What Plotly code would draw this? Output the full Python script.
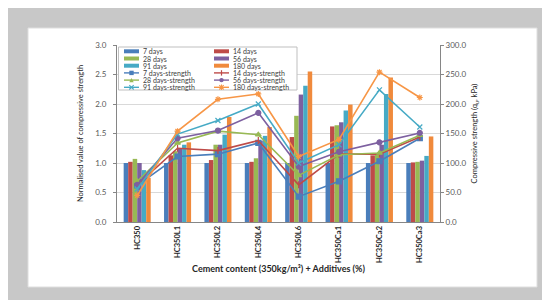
import plotly.graph_objects as go

categories = ["HC350", "HC350L1", "HC350L2", "HC350L4", "HC350L6", "HC350Ca1", "HC350Ca2", "HC350Ca3"]

# Normalised compressive strength (bars, left axis)
norm_7 = [1.00, 1.00, 1.00, 1.00, 1.00, 1.00, 1.00, 1.00]
norm_14 = [1.02, 1.13, 1.05, 1.02, 1.44, 1.62, 1.13, 1.01]
norm_28 = [1.07, 1.20, 1.31, 1.08, 1.80, 1.64, 1.17, 1.02]
norm_56 = [1.00, 1.25, 1.31, 1.38, 2.16, 1.69, 1.31, 1.04]
norm_91 = [0.88, 1.31, 1.48, 1.46, 2.31, 1.89, 2.17, 1.12]
norm_180 = [0.75, 1.35, 1.78, 1.61, 2.55, 1.99, 2.45, 1.45]

# Compressive strength qu in kPa (lines, right axis)
str_7 = [62, 111, 115, 134, 43, 69, 103, 142]
str_14 = [63, 125, 121, 138, 63, 115, 115, 144]
str_28 = [69, 134, 154, 148, 79, 114, 117, 147]
str_56 = [63, 142, 155, 185, 94, 119, 135, 151]
str_91 = [56, 149, 172, 200, 100, 131, 224, 161]
str_180 = [45, 154, 208, 217, 111, 140, 254, 211]

bar_names = ["7 days", "14 days", "28 days", "56 days", "91 days", "180 days"]
line_names = ["7 days-strength", "14 days-strength", "28 days-strength",
              "56 days-strength", "91 days-strength", "180 days-strength"]

bar_colors = ["#4A7EBB", "#BE4B48", "#98B954", "#7D60A0", "#46AAC5", "#F08A3C"]
line_colors = ["#4A7EBB", "#BE4B48", "#98B954", "#7D60A0", "#46AAC5", "#F79646"]
line_symbols = ["square", "line-ns-open", "triangle-up", "circle", "x-thin-open", "asterisk-open"]

bars = [norm_7, norm_14, norm_28, norm_56, norm_91, norm_180]
lines = [str_7, str_14, str_28, str_56, str_91, str_180]

FONT = "Lato, 'Noto Sans', sans-serif"
W, H = 550, 300
ML, MR, MT, MB = 109, 118, 37, 86
PW, PH = W - ML - MR, H - MT - MB


def X(px):
    return (px - ML) / PW


def Y(py):
    return (MT + PH - py) / PH


fig = go.Figure()
for name, vals, col in zip(bar_names, bars, bar_colors):
    fig.add_trace(go.Bar(x=categories, y=vals, name=name, marker_color=col,
                         marker_line_width=0, showlegend=False, yaxis="y"))
for name, vals, col, sym in zip(line_names, lines, line_colors, line_symbols):
    fig.add_trace(go.Scatter(x=categories, y=vals, name=name, mode="lines+markers",
                             line=dict(color=col, width=1.6),
                             marker=dict(symbol=sym, size=5, color=col,
                                         line=dict(color=col, width=1.2)),
                             showlegend=False, yaxis="y2"))

shapes = []
# white chart frame on gray page
shapes.append(dict(type="rect", xref="paper", yref="paper", layer="below",
                   x0=X(20), x1=X(529), y0=Y(279), y1=Y(20),
                   fillcolor="white", line=dict(color="#dedede", width=1)))
# legend box
shapes.append(dict(type="rect", xref="paper", yref="paper",
                   x0=X(110.5), x1=X(289), y0=Y(82), y1=Y(39),
                   fillcolor="white", line=dict(color="#bfbfbf", width=1)))

annotations = []
rows = [43.3, 50.5, 57.7, 64.9, 72.1, 79.3]
cols = [116, 206]
entries = []
for i, (n, c) in enumerate(zip(bar_names, bar_colors)):
    entries.append(("bar", n, c, None, i))
for i, (n, c, s) in enumerate(zip(line_names, line_colors, line_symbols)):
    entries.append(("line", n, c, s, i + 6))

for kind, name, col, sym, idx in entries:
    r, cidx = divmod(idx, 2)
    cy = rows[r]
    x0 = cols[cidx]
    x1 = x0 + 15
    if kind == "bar":
        shapes.append(dict(type="rect", xref="paper", yref="paper",
                           x0=X(x0), x1=X(x1), y0=Y(cy + 2), y1=Y(cy - 2),
                           fillcolor=col, line=dict(width=0)))
    else:
        shapes.append(dict(type="line", xref="paper", yref="paper",
                           x0=X(x0), x1=X(x1), y0=Y(cy), y1=Y(cy),
                           line=dict(color=col, width=1.4)))
        mx = (x0 + x1) / 2
        s = 2.2
        if sym == "square":
            shapes.append(dict(type="rect", xref="paper", yref="paper",
                               x0=X(mx - s), x1=X(mx + s), y0=Y(cy + s), y1=Y(cy - s),
                               fillcolor=col, line=dict(width=0)))
        elif sym == "circle":
            shapes.append(dict(type="circle", xref="paper", yref="paper",
                               x0=X(mx - s), x1=X(mx + s), y0=Y(cy + s), y1=Y(cy - s),
                               fillcolor=col, line=dict(width=0)))
        elif sym == "triangle-up":
            path = f"M {X(mx - s)} {Y(cy + s)} L {X(mx + s)} {Y(cy + s)} L {X(mx)} {Y(cy - s)} Z"
            shapes.append(dict(type="path", xref="paper", yref="paper", path=path,
                               fillcolor=col, line=dict(width=0)))
        elif sym == "line-ns-open":
            shapes.append(dict(type="line", xref="paper", yref="paper",
                               x0=X(mx), x1=X(mx), y0=Y(cy + s + 0.5), y1=Y(cy - s - 0.5),
                               line=dict(color=col, width=1.2)))
        else:
            path = (f"M {X(mx - s)} {Y(cy - s)} L {X(mx + s)} {Y(cy + s)} "
                    f"M {X(mx - s)} {Y(cy + s)} L {X(mx + s)} {Y(cy - s)}")
            if sym == "asterisk-open":
                path += f" M {X(mx)} {Y(cy - s - 0.5)} L {X(mx)} {Y(cy + s + 0.5)}"
            shapes.append(dict(type="path", xref="paper", yref="paper", path=path,
                               line=dict(color=col, width=1.1)))
    annotations.append(dict(xref="paper", yref="paper", x=X(x1 + 2), y=Y(cy),
                            xanchor="left", yanchor="middle", showarrow=False,
                            text=name, font=dict(size=7, color="#404040", family=FONT)))

fig.update_layout(
    width=W, height=H,
    margin=dict(l=ML, r=MR, t=MT, b=MB),
    paper_bgcolor="#c8c8c8",
    plot_bgcolor="white",
    font=dict(family=FONT, size=8, color="#404040"),
    barmode="group",
    bargap=0.33,
    bargroupgap=0,
    showlegend=False,
    xaxis=dict(
        type="category",
        tickangle=-90,
        tickfont=dict(size=7.5, color="#262626", family=FONT, weight="bold"),
        showline=True, linecolor="#868686", linewidth=1,
        ticks="", showgrid=False,
        title=dict(text="<b>Cement content (350kg/m³) + Additives (%)</b>",
                   font=dict(size=9, color="#262626"), standoff=0),
    ),
    yaxis=dict(
        range=[0, 3], dtick=0.5, tickformat=".1f",
        showline=True, linecolor="#868686", linewidth=1,
        gridcolor="#d9d9d9", gridwidth=1,
        ticks="outside", ticklen=3, tickcolor="#868686",
        ticklabelstandoff=5,
        tickfont=dict(size=8, color="#595959"),
        zeroline=False,
        title=dict(text="Normalised value of compressive strength",
                   font=dict(size=7.5, color="#262626"), standoff=10),
    ),
    yaxis2=dict(
        overlaying="y", side="right",
        range=[0, 300], dtick=50, tickformat=".1f",
        showline=True, linecolor="#868686", linewidth=1,
        showgrid=False, zeroline=False,
        ticks="outside", ticklen=3, tickcolor="#868686",
        tickfont=dict(size=8, color="#595959"),
        title=dict(text="Compressive strength (q<sub>u</sub>, kPa)",
                   font=dict(size=7.5, color="#262626"), standoff=6),
    ),
    shapes=shapes,
    annotations=annotations,
)

fig.write_html("out.html")
